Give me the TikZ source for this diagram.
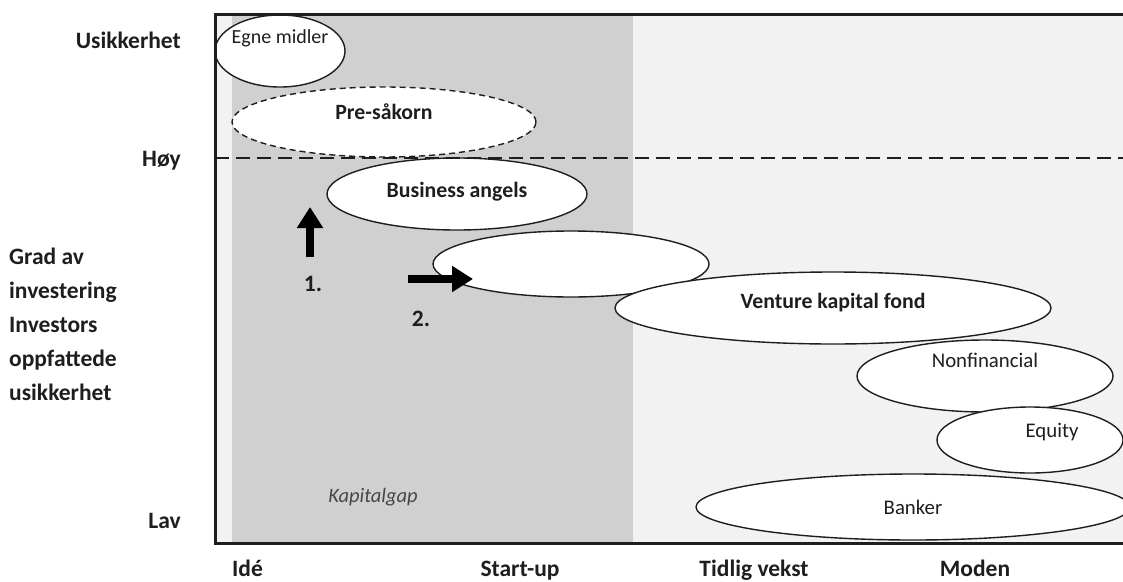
\documentclass[tikz,border=0pt]{standalone}
\usepackage{fontspec}
\setmainfont{Carlito}
\usetikzlibrary{shapes.geometric,arrows.meta}
\definecolor{gapgray}{HTML}{D0D0D0}
\definecolor{panel}{HTML}{F2F2F2}
\definecolor{ink}{HTML}{1E1E1E}

\begin{document}
\begin{tikzpicture}[x=1pt,y=-1pt,
  axislbl/.style={font=\fontsize{23.5}{28}\selectfont\bfseries, text=ink, inner sep=0},
  fund/.style={ellipse, draw=ink, line width=1.4pt, fill=white, inner sep=0},
  fundtxt/.style={font=\fontsize{20.8}{24}\selectfont, text=ink, inner sep=0},
  fundbold/.style={fundtxt, font=\fontsize{21.8}{26}\selectfont\bfseries},
  bigarrow/.style={line width=7.5pt, draw=black, -{Triangle[width=25pt,length=21pt]}},
]
\useasboundingbox (0,0) rectangle (1123,581);
\begin{scope}
\clip (0,0) rectangle (1123,581);
% plot area: light panel with the darker capital-gap band
\fill[panel] (215,14) rectangle (1150,543);
\fill[gapgray] (232,14) rectangle (633,543);

% financing sources
\node[fund, minimum width=130, minimum height=72] (egne) at (280,51) {};
\node[fund, dashed, dash pattern=on 6pt off 4pt, minimum width=304, minimum height=70] (pre) at (384,122) {};
\node[fund, minimum width=260, minimum height=72] (angels) at (457,194) {};
\node[fund, minimum width=276, minimum height=66] (blank) at (571,264) {};
\node[fund, minimum width=436, minimum height=72] (vc) at (833,308) {};
\node[fund, minimum width=256, minimum height=72] (nonfin) at (985,376) {};
\node[fund, minimum width=186, minimum height=66] (equity) at (1030,440) {};
\node[fund, minimum width=434, minimum height=66] (banker) at (913,507) {};

\node[fundtxt, font=\fontsize{20}{24}\selectfont] at ([yshift=13]egne.center) {Egne midler};
\node[fundbold] at ([yshift=10]pre.center) {Pre-såkorn};
\node[fundbold] at ([yshift=2]angels.center) {Business angels};
\node[fundbold] at ([yshift=5]vc.center) {Venture kapital fond};
\node[fundtxt] at ([yshift=16]nonfin.center) {Nonfinancial};
\node[fundtxt] at ([xshift=22,yshift=8]equity.center) {Equity};
\node[fundtxt] at (banker.center) {Banker};

\node[fundtxt, font=\fontsize{20.5}{24}\selectfont\itshape, text=black!72] (gap) at (373,497) {Kapitalgap};

% high-uncertainty threshold
\coordinate (hoyL) at (215,158);
\coordinate (hoyR) at (1150,158);
\draw[ink, line width=1.8pt, dash pattern=on 14pt off 7pt] (hoyL) -- (hoyR);

% movement arrows
\coordinate (a1s) at (310,257);
\coordinate (a1e) at (310,207);
\coordinate (a2s) at (408,279);
\coordinate (a2e) at (473,279);
\draw[bigarrow] (a1s) -- (a1e);
\draw[bigarrow] (a2s) -- (a2e);
\node[axislbl] (n1) at (313,284) {1.};
\node[axislbl] (n2) at (421,319) {2.};

% frame
\draw[ink, line width=3pt] (1150,14) -- (215,14) -- (215,543) -- (1150,543);
\end{scope}

% vertical axis labels
\node[axislbl, anchor=east] (usik) at (181,40) {Usikkerhet};
\node[axislbl, anchor=east] (hoy) at (181,161) {Høy};
\node[axislbl, anchor=east] (lav) at (181,521) {Lav};
\node[axislbl, anchor=west, align=left, font=\fontsize{23.5}{34}\selectfont\bfseries] (grad) at (9,324)
  {Grad av\\investering\\Investors\\oppfattede\\usikkerhet};

% horizontal axis labels
\node[axislbl, anchor=base west] (ide) at (232,576) {Idé};
\node[axislbl, anchor=base] (start) at (520,576) {Start-up};
\node[axislbl, anchor=base] (tidlig) at (754,576) {Tidlig vekst};
\node[axislbl, anchor=base] (moden) at (975,576) {Moden};
\end{tikzpicture}
\end{document}
